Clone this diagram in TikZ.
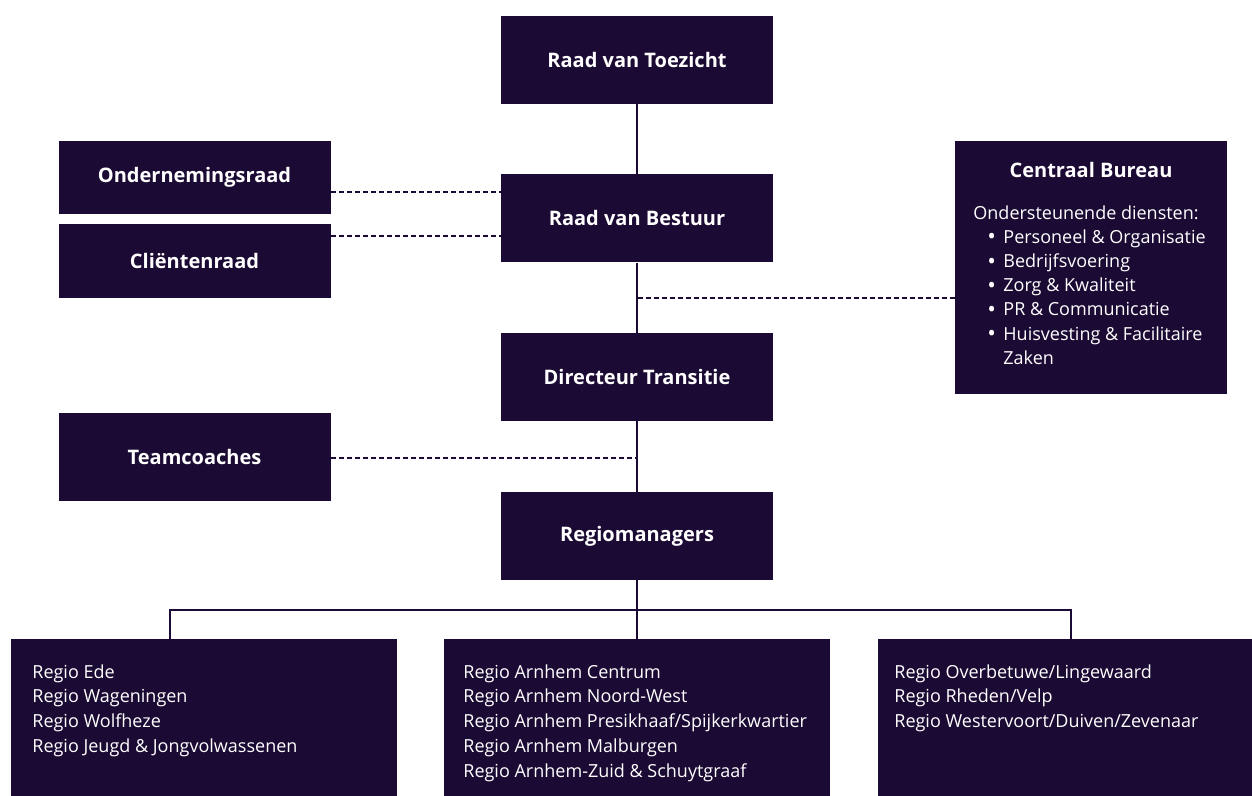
\documentclass[tikz,border=0pt]{standalone}
\usepackage{fontspec}
\setmainfont{Open Sans}
\definecolor{paars}{HTML}{1B0A33}
\newcommand{\opsom}{\hspace*{7pt}\makebox[8pt][l]{\raisebox{-0.8pt}{\fontsize{11.5}{11.5}\selectfont •}}}

\begin{document}
\begin{tikzpicture}[x=0.5pt,y=-0.5pt,
  box/.style={fill=paars, minimum width=136pt, minimum height=44pt, inner sep=0pt,
    text=white, font=\bfseries\fontsize{10}{12}\selectfont},
  regiobox/.style={fill=paars, minimum width=193pt, minimum height=78.5pt, inner sep=0pt},
  lijn/.style={draw=paars, line width=0.75pt},
  stippel/.style={draw=paars, line width=0.75pt, dash pattern=on 2.5pt off 1.5pt},
  lijst/.style={text=white, align=left, inner sep=0pt, anchor=north west,
    font=\fontsize{9}{12.45}\selectfont}]
  \useasboundingbox (0,0) rectangle (1252,796);

  \node[box] (rvt) at (637,60) {Raad van Toezicht};
  \node[box] (rvb) at (637,218.5) {Raad van Bestuur};
  \node[box] (dir) at (637,377) {Directeur Transitie};
  \node[box] (rm) at (637,536) {Regiomanagers};
  \node[box, minimum height=36.5pt] (or) at (194.5,177.5) {Ondernemingsraad};
  \node[box, minimum height=37pt] (cr) at (194.5,261) {Cliëntenraad};
  \node[box] (tc) at (194.5,457) {Teamcoaches};
  \node[box, minimum height=126.5pt] (cb) at (1091,267.5) {};
  \node[text=white, font=\bfseries\fontsize{10}{12}\selectfont] (cbtitel) at (1091,170) {Centraal Bureau};
  \node[lijst, font=\fontsize{9}{12.1}\selectfont] (cblijst) at (973,205) {Ondersteunende diensten:\\
    \opsom Personeel \& Organisatie\\
    \opsom Bedrijfsvoering\\
    \opsom Zorg \& Kwaliteit\\
    \opsom PR \& Communicatie\\
    \opsom Huisvesting \& Facilitaire\\
    \hspace*{15pt}Zaken};

  \node[regiobox] (r1) at (204,717.5) {};
  \node[regiobox] (r2) at (637,717.5) {};
  \node[regiobox, minimum width=187pt] (r3) at (1065,717.5) {};
  \node[lijst] (r1tekst) at (32,664) {Regio Ede\\Regio Wageningen\\Regio Wolfheze\\Regio Jeugd \& Jongvolwassenen};
  \node[lijst] (r2tekst) at (463,664) {Regio Arnhem Centrum\\Regio Arnhem Noord-West\\Regio Arnhem Presikhaaf/Spijkerkwartier\\Regio Arnhem Malburgen\\Regio Arnhem-Zuid \& Schuytgraaf};
  \node[lijst] (r3tekst) at (894,664) {Regio Overbetuwe/Lingewaard\\Regio Rheden/Velp\\Regio Westervoort/Duiven/Zevenaar};

  \draw[lijn] (rvt) -- (rvb) -- (dir) -- (rm);
  \draw[stippel] (or.east |- 0,192) -- (rvb.west |- 0,192);
  \draw[stippel] (cr.east |- 0,236) -- (rvb.west |- 0,236);
  \coordinate (kruis1) at (637,298);
  \coordinate (kruis2) at (637,458);
  \draw[stippel] (cb.west |- kruis1) -- (kruis1);
  \draw[stippel] (tc.east |- kruis2) -- (kruis2);

  \coordinate (links) at (170,610);
  \coordinate (rechts) at (1071,610);
  \draw[lijn] (rm) -- (r2);
  \draw[lijn] (r1.north -| links) -- (links) -- (rechts) -- (r3.north -| rechts);
\end{tikzpicture}
\end{document}
